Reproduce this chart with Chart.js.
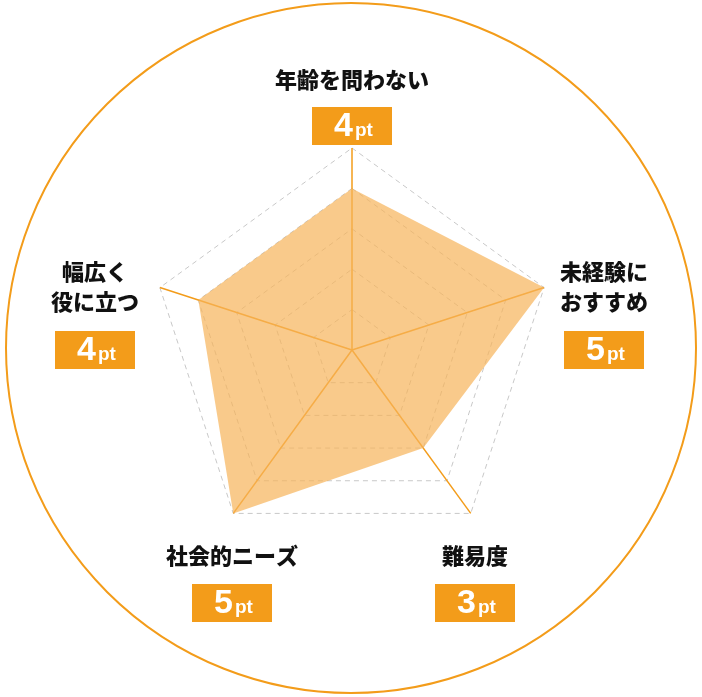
<!DOCTYPE html>
<html>
<head>
<meta charset="utf-8">
<script src="https://cdn.jsdelivr.net/npm/chart.js@4"></script>
<style>
html,body{margin:0;padding:0;background:#fff;}
#wrap{width:702px;height:697px;}
</style>
</head>
<body>
<div id="wrap"><canvas id="radar"></canvas></div>
<script>
const categories = [['年齢を問わない'], ['未経験に', 'おすすめ'], ['難易度'], ['社会的ニーズ'], ['幅広く', '役に立つ']];
const scores = [4, 5, 3, 5, 4];
const tickValues = [0, 1, 2, 3, 4, 5];

// label positions per axis: [x, text centre y, box y]
const labelPos = [[352, 80, 126], [604, 287, 350], [475, 556, 603], [232, 556, 603], [95, 287, 350]];

const decor = {
  id: 'decor',
  beforeDraw(chart) {
    const c = chart.ctx;
    c.save();
    c.beginPath();
    c.arc(351, 348, 345, 0, Math.PI * 2);
    c.strokeStyle = '#f39c1a';
    c.lineWidth = 2;
    c.stroke();
    c.restore();
  },
  afterDraw(chart) {
    const c = chart.ctx;
    c.save();
    c.textBaseline = 'middle';
    categories.forEach((lines, i) => {
      const [x, ty, by] = labelPos[i];
      c.textAlign = 'center';
      c.fillStyle = '#111';
      c.font = '900 22px "Noto Sans CJK JP"';
      lines.forEach((t, k) => {
        c.fillText(t, x, ty + (k - (lines.length - 1) / 2) * 30);
      });
      c.fillStyle = '#f39c1a';
      c.fillRect(x - 40, by - 19, 80, 38);
      c.fillStyle = '#fff';
      c.font = 'bold 34px "Liberation Sans"';
      c.textAlign = 'right';
      c.fillText(String(scores[i]), x + 1, by + 1);
      c.font = 'bold 19px "Liberation Sans"';
      c.textAlign = 'left';
      c.fillText('pt', x + 3, by + 5);
    });
    c.restore();
  }
};

new Chart(document.getElementById('radar'), {
  type: 'radar',
  data: {
    labels: categories,
    datasets: [{
      data: scores,
      backgroundColor: 'rgba(247,180,90,0.7)',
      borderWidth: 0,
      pointRadius: 0
    }]
  },
  options: {
    responsive: true,
    maintainAspectRatio: false,
    animation: false,
    layout: { padding: { left: 150, right: 148, top: 148, bottom: 145 } },
    plugins: { legend: { display: false }, tooltip: { enabled: false } },
    scales: {
      r: {
        min: tickValues[0],
        max: tickValues[tickValues.length - 1],
        ticks: { display: false, stepSize: 1 },
        pointLabels: { display: false },
        angleLines: { color: '#f39c1a', lineWidth: 1.5 },
        grid: { color: '#c8c8c8', lineWidth: 1 },
        border: { dash: [5, 4] }
      }
    }
  },
  plugins: [decor]
});
</script>
</body>
</html>
